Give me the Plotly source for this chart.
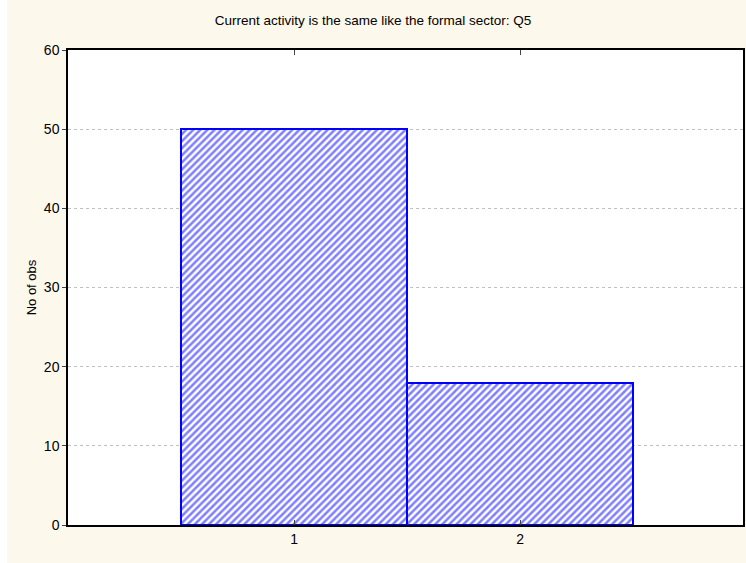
import plotly.graph_objects as go

categories = [1, 2]
counts = [50, 18]
y_ticks = [0, 10, 20, 30, 40, 50, 60]

title_text = "Current activity is the same like the formal sector: Q5"
y_title = "No of obs"

fig = go.Figure()
fig.add_trace(go.Bar(
    x=categories, y=counts, width=1.0,
    marker=dict(color="white",
                line=dict(color="#0000FF", width=2),
                pattern=dict(shape="/", fgcolor="#0000FF", bgcolor="white",
                             size=5, solidity=0.5)),
    showlegend=False,
))

font = "Liberation Sans, Arial"

L, R, T, B = 68, 1, 50, 38
plot_w = 746 - L - R

fig.update_layout(
    width=746, height=563,
    margin=dict(l=L, r=R, t=T, b=B),
    paper_bgcolor="#FDF8EC",
    plot_bgcolor="white",
    font=dict(family=font, size=14, color="black"),
    title=dict(text=title_text, x=0.5, xref="container", xanchor="center",
               y=1 - 20/563, yanchor="middle",
               font=dict(family=font, size=13.5, color="black")),
    bargap=0,
    xaxis=dict(range=[0, 2.985], tickvals=categories, ticks="inside", ticklen=5,
               showline=True, linecolor="black", linewidth=1.5, mirror="ticks",
               showgrid=False, zeroline=False, tickfont=dict(size=14)),
    yaxis=dict(range=[0, 60], tickvals=y_ticks, ticks="outside", ticklen=4,
               showline=True, linecolor="black", linewidth=1.5, mirror=True,
               showgrid=True, gridcolor="#C0C0C0", griddash="dot", gridwidth=1,
               zeroline=False, tickfont=dict(size=14),
               title=dict(text=y_title, standoff=4, font=dict(size=13))),
    yaxis2=dict(range=[0, 60], tickvals=y_ticks, ticks="inside", ticklen=4,
                overlaying="y", side="right", showticklabels=False,
                showgrid=False, zeroline=False, showline=False),
    shapes=[dict(type="rect", xref="paper", yref="paper",
                 x0=-0.2, x1=(7 - L) / plot_w, y0=-0.2, y1=1.2,
                 fillcolor="white", line=dict(width=0), layer="below")],
)

fig.write_html("out.html", config={"displayModeBar": False},
               post_script="document.body.style.margin='0';document.body.style.overflow='hidden';")
